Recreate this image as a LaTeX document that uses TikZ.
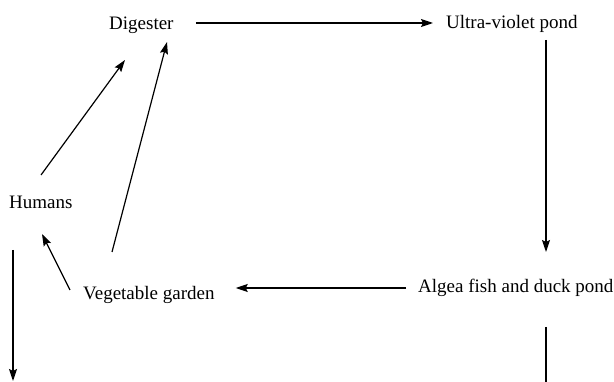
\documentclass[tikz,border=0pt]{standalone}
\usepackage{fontspec}
\setmainfont{Liberation Serif}
\usetikzlibrary{positioning, calc, arrows.meta}

\begin{document}
\begin{tikzpicture}[x=1pt, y=-1pt, >={Stealth[length=12pt, width=8pt, inset=2pt]},
    lbl/.style={anchor=base west, inner sep=0pt, font=\fontsize{19}{23}\selectfont},
    arr/.style={->, line width=1.2pt}]
    \useasboundingbox (0,0) rectangle (614,382);

    % Stages
    \node[lbl] (dig) at (109,30) {Digester};
    \node[lbl] (uv) at (446,29) {Ultra-violet pond};
    \node[lbl] (hum) at (9,209) {Humans};
    \node[lbl] (veg) at (83,300) {Vegetable garden};
    \node[lbl] (alg) at (418,293) {Algea fish and duck pond};

    % Loose ends
    \coordinate (humout) at (13,381);
    \coordinate (algout) at (546,383);

    % Flow
    \draw[arr] ($(dig.base east)+(22,-7)$) -- ($(uv.base west)+(-13,-6)$);
    \draw[arr] ($(uv.base west)+(100,11)$) -- ($(alg.base west)+(128,-41)$);
    \draw[arr] ($(alg.base west)+(-12,-5)$) -- ($(veg.base east)+(21,-12)$);
    \draw[arr] ($(veg.base west)+(-13,-10)$) -- ($(hum.base west)+(33,25)$);
    \draw[arr] ($(hum.base west)+(32,-34)$) -- ($(dig.base west)+(16,30)$);
    \draw[arr] ($(veg.base west)+(29,-48)$) -- ($(dig.base west)+(58,12)$);
    \draw[arr] ($(hum.base west)+(4,41)$) -- (humout);
    \draw[line width=1.2pt] ($(alg.base west)+(128,34)$) -- (algout);
\end{tikzpicture}
\end{document}
